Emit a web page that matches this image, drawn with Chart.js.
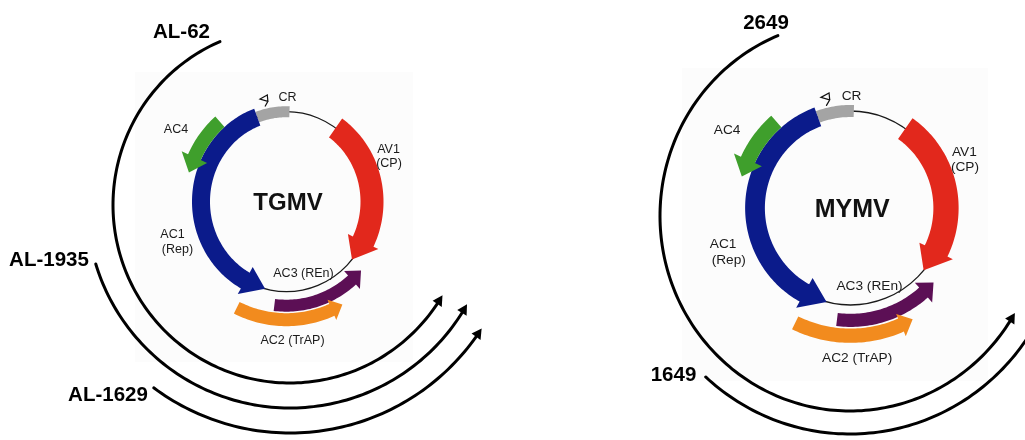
<!DOCTYPE html>
<html>
<head>
<meta charset="utf-8">
<title>TGMV / MYMV transcript map</title>
<script src="https://cdn.jsdelivr.net/npm/chart.js@4.4.0/dist/chart.umd.min.js"></script>
<style>
  html, body { margin: 0; padding: 0; background: #fff; overflow: hidden; }
  canvas { display: block; }
</style>
</head>
<body>
<canvas id="map" width="1025" height="440"></canvas>
<script>
// Genome features, angles in degrees clockwise from 12 o'clock
const geneNames = ["CR", "AC1", "AC4", "AV1", "AC3", "AC2"];
const geneStart = [-20, -20, -41, 35, -173, -154];
const geneEnd = [2, -165.5, -74, 130, -228.5, -209.5];
const geneArrow = [false, true, true, true, true, true];
const geneLabels = ["CR", "AC4", "AV1", "(CP)", "AC1", "(Rep)", "AC3 (REn)", "AC2 (TrAP)"];

// Transcripts mapped around each genome
const tgmvTranscripts = ["AL-62", "AL-1935", "AL-1629"];
const tgmvStart = [-23.3, -106.9, -143.3];
const tgmvEnd = [-239.5, -240.7, -237.2];
const mymvTranscripts = ["2649", "1649"];
const mymvStart = [-22.3, -137.6];
const mymvEnd = [-240.2, -252];

// drawing styles per feature (ring = offset from the genome circle)
const geneStyle = {
  CR:  { color: "#a4a4a4", ring: 0, width: 11 },
  AC1: { color: "#0b1b8b", ring: 0, width: 18, headW: 31, headL: 22 },
  AC4: { color: "#3f9f2c", ring: 16, width: 14, headW: 28, headL: 16 },
  AV1: { color: "#e2281c", ring: 0, width: 23, headW: 34, headL: 21 },
  AC3: { color: "#5c0f55", ring: 14, width: 12, headW: 24, headL: 13 },
  AC2: { color: "#f28b1e", ring: 28, width: 13, headW: 22, headL: 12 }
};
// label offsets from genome centre, for an 85.5 x 90 circle
const labelOffsets = [
  [1, -104], [-110.5, -71.7], [102, -51.7], [102.5, -37.7],
  [-114, 33.3], [-109, 48.3], [17, 72.3], [6, 139.3]
];
const hairpin = [[-21.5, -95.2], [-18.6, -100.3], [-26.5, -102.6], [-19.2, -106.8], [-18.6, -100.3]];
const FONT = '"Liberation Sans", Arial, sans-serif';

const panels = [
  {
    title: "TGMV", cx: 286.5, cy: 201.7, rx: 85.5, ry: 90, titleSize: 24,
    box: [135, 72, 413, 362],
    tr: { cx: 290, cy: 205, names: tgmvTranscripts, start: tgmvStart, end: tgmvEnd,
          radii: [[177, 178], [203, 203], [228, 228]],
          text: [[181.5, 32.5], [49, 260.5], [108, 395.5]] }
  },
  {
    title: "MYMV", cx: 850.5, cy: 208, rx: 95.5, ry: 97, titleSize: 25,
    box: [682, 68, 988, 381],
    tr: { cx: 850, cy: 216, names: mymvTranscripts, start: mymvStart, end: mymvEnd,
          radii: [[190, 195], [214, 218]],
          text: [[766, 23.5], [673.5, 375.5]] }
  }
];

const toRad = (d) => d * Math.PI / 180;

const genomePlugin = {
  id: "genomeMap",
  afterDraw(chart) {
    const ctx = chart.ctx;
    const xs = chart.scales.x, ys = chart.scales.y;
    const X = (v) => xs.getPixelForValue(v);
    const Y = (v) => ys.getPixelForValue(v);

    // point on an ellipse around (cx, cy), pushed out by off
    const pt = (cx, cy, rx, ry, deg, off) => {
      const t = toRad(deg);
      return [X(cx + (rx + off) * Math.sin(t)), Y(cy - (ry + off) * Math.cos(t))];
    };
    const steps = (a, b) => Math.max(2, Math.ceil(Math.abs(b - a) / 1.2));

    ctx.save();
    panels.forEach((P) => {
      const sx = P.rx / 85.5, sy = P.ry / 90, k = (sx + sy) / 2;

      // faint backdrop behind the genome map
      ctx.fillStyle = "#fcfcfc";
      ctx.fillRect(X(P.box[0]), Y(P.box[1]), X(P.box[2]) - X(P.box[0]), Y(P.box[3]) - Y(P.box[1]));

      // genome circle
      ctx.beginPath();
      ctx.ellipse(X(P.cx), Y(P.cy), X(P.cx + P.rx) - X(P.cx), Y(P.cy + P.ry) - Y(P.cy), 0, 0, Math.PI * 2);
      ctx.lineWidth = 1.3;
      ctx.strokeStyle = "#1a1a1a";
      ctx.stroke();

      // features, blue before green so AC4 sits on top
      const order = ["AV1", "CR", "AC1", "AC4", "AC3", "AC2"];
      order.forEach((name) => {
        const i = geneNames.indexOf(name);
        const st = geneStyle[name];
        const a0 = geneStart[i], a1 = geneEnd[i];
        const d = st.ring * k, w = st.width * k;
        const s = Math.sign(a1 - a0);
        const rAvg = (P.rx + P.ry) / 2 + d;
        let aB = a1;
        if (geneArrow[i]) aB = a1 - s * (st.headL * k / rAvg) * 180 / Math.PI;
        const pts = [];
        const n = steps(a0, aB);
        for (let j = 0; j <= n; j++) pts.push(pt(P.cx, P.cy, P.rx, P.ry, a0 + (aB - a0) * j / n, d + w / 2));
        if (geneArrow[i]) {
          const hw = st.headW * k;
          pts.push(pt(P.cx, P.cy, P.rx, P.ry, aB, d + hw / 2));
          pts.push(pt(P.cx, P.cy, P.rx, P.ry, a1, d));
          pts.push(pt(P.cx, P.cy, P.rx, P.ry, aB, d - hw / 2));
        }
        for (let j = n; j >= 0; j--) pts.push(pt(P.cx, P.cy, P.rx, P.ry, a0 + (aB - a0) * j / n, d - w / 2));
        ctx.beginPath();
        pts.forEach((p, j) => (j ? ctx.lineTo(p[0], p[1]) : ctx.moveTo(p[0], p[1])));
        ctx.closePath();
        ctx.fillStyle = st.color;
        ctx.fill();
      });

      // stem-loop above the common region
      ctx.beginPath();
      hairpin.forEach((h, j) => {
        const x = X(P.cx + h[0] * sx), y = Y(P.cy + h[1] * sy);
        j ? ctx.lineTo(x, y) : ctx.moveTo(x, y);
      });
      ctx.lineWidth = 1.2;
      ctx.strokeStyle = "#111";
      ctx.stroke();

      // feature labels
      ctx.fillStyle = "#1b1b1b";
      ctx.textAlign = "center";
      ctx.textBaseline = "middle";
      ctx.font = (12.5 * k).toFixed(1) + "px " + FONT;
      geneLabels.forEach((txt, j) => {
        const o = labelOffsets[j];
        ctx.fillText(txt, X(P.cx + o[0] * sx), Y(P.cy + o[1] * sy));
      });
      ctx.fillStyle = "#111";
      ctx.font = "bold " + P.titleSize + "px " + FONT;
      ctx.fillText(P.title, X(P.cx + 1.5 * sx), Y(P.cy + 2 * sy));

      // transcripts with arrowheads at their 3' ends
      const T = P.tr;
      T.names.forEach((name, j) => {
        const [rx, ry] = T.radii[j];
        const a0 = T.start[j], a1 = T.end[j];
        const s = Math.sign(a1 - a0);
        const aB = a1 - s * (10 / ((rx + ry) / 2)) * 180 / Math.PI;
        const n = steps(a0, aB);
        ctx.beginPath();
        for (let m = 0; m <= n; m++) {
          const p = pt(T.cx, T.cy, rx, ry, a0 + (aB - a0) * m / n, 0);
          m ? ctx.lineTo(p[0], p[1]) : ctx.moveTo(p[0], p[1]);
        }
        ctx.lineWidth = 3;
        ctx.lineCap = "round";
        ctx.strokeStyle = "#000";
        ctx.stroke();
        const tip = pt(T.cx, T.cy, rx, ry, a1, 0);
        const b1 = pt(T.cx, T.cy, rx, ry, aB, 5.5);
        const b2 = pt(T.cx, T.cy, rx, ry, aB, -5.5);
        ctx.beginPath();
        ctx.moveTo(tip[0], tip[1]);
        ctx.lineTo(b1[0], b1[1]);
        ctx.lineTo(b2[0], b2[1]);
        ctx.closePath();
        ctx.fillStyle = "#000";
        ctx.fill();

        ctx.font = "bold 20.5px " + FONT;
        ctx.fillText(name, X(T.text[j][0]), Y(T.text[j][1]));
      });
    });
    ctx.restore();
  }
};

new Chart(document.getElementById("map"), {
  type: "scatter",
  data: { datasets: [{ data: [], pointRadius: 0 }] },
  options: {
    responsive: false,
    animation: false,
    events: [],
    layout: { padding: 0 },
    plugins: { legend: { display: false }, tooltip: { enabled: false } },
    scales: {
      x: { type: "linear", min: 0, max: 1025, display: false },
      y: { type: "linear", min: 0, max: 440, reverse: true, display: false }
    }
  },
  plugins: [genomePlugin]
});
</script>
</body>
</html>
